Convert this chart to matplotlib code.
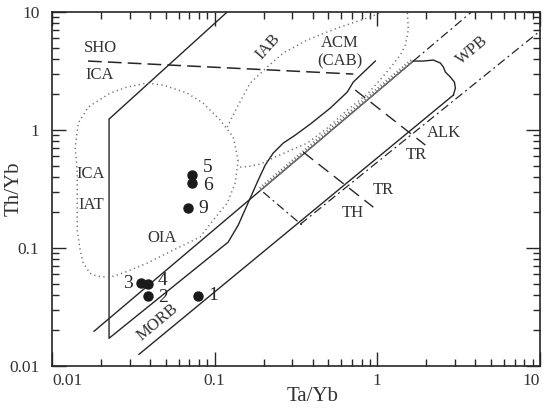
import matplotlib
matplotlib.use("Agg")
import matplotlib.pyplot as plt
import matplotlib.patheffects as pe
from matplotlib.ticker import FixedLocator, FixedFormatter, LogLocator, NullFormatter

plt.rcParams['font.family'] = ['Liberation Serif', 'DejaVu Serif']

# samples: Ta/Yb vs Th/Yb
sample_ids = ["1", "2", "3", "4", "5", "6", "9"]
ta_yb = [0.079, 0.039, 0.0353, 0.039, 0.0727, 0.0727, 0.069]
th_yb = [0.039, 0.039, 0.0503, 0.0493, 0.415, 0.355, 0.218]

# solid field boundaries
arc_x = [0.1194, 0.02243, 0.02243, 0.121, 0.1395, 0.1654, 0.1852, 0.2046,
         0.229, 0.264, 0.313, 0.387, 0.514, 0.6535, 0.7115, 0.972]
arc_y = [10.0, 1.237, 0.01718, 0.112, 0.156, 0.2645, 0.3758, 0.504,
         0.637, 0.774, 0.905, 1.122, 1.534, 2.097, 2.549, 3.84]
upper_x = [0.01814, 1.665]
upper_y = [0.0197, 3.84]
hatch_x = [0.1905, 1.665]
hatch_y = [0.3065, 3.84]
upper_ext_x = [1.665, 3.79]
upper_ext_y = [3.84, 10.0]
lower_x = [0.0343, 2.936]
lower_y = [0.01257, 1.977]
wpb_x = [2.936, 3.02, 2.977, 2.813, 2.621, 2.548, 2.442, 2.211, 1.919, 1.665]
wpb_y = [1.977, 2.266, 2.549, 2.81, 3.098, 3.416, 3.693, 3.916, 3.84, 3.84]

# dash-dot and dashed lines
vec_x = [0.336, 10.0]
vec_y = [0.159, 6.9]
th_tr_x = [0.1988, 0.3505]
th_tr_y = [0.2974, 0.1531]
tr1_x = [0.3505, 0.945]
tr1_y = [0.6495, 0.222]
tr2_x = [0.732, 1.974]
tr2_y = [2.18, 0.745]
sho_x = [0.01665, 0.7115]
sho_y = [3.84, 2.98]

# dotted fields
oia_x = [0.1395, 0.1337, 0.1194, 0.0979, 0.0814, 0.0555, 0.0384, 0.0281, 0.0228,
         0.0189, 0.0171, 0.0155, 0.0149, 0.0143, 0.0143, 0.0143, 0.0143, 0.0139,
         0.0145, 0.0167, 0.0228, 0.0289, 0.0384, 0.0482, 0.0677, 0.0849, 0.1081,
         0.1300, 0.1395]
oia_y = [0.556, 0.354, 0.240, 0.172, 0.124, 0.0958, 0.0743, 0.0623, 0.0565,
         0.0577, 0.0611, 0.0758, 0.0958, 0.1416, 0.1825, 0.2804, 0.431, 0.716,
         1.144, 1.564, 2.056, 2.311, 2.499, 2.403, 2.056, 1.691, 1.213,
         0.871, 0.556]
acm_r_x = [0.1435, 0.1654, 0.1905, 0.2425, 0.3041, 0.3709, 0.4924, 0.6535,
           0.868, 1.089, 1.254, 1.385, 1.487, 1.551, 1.529]
acm_r_y = [0.4844, 0.4941, 0.5138, 0.6006, 0.6887, 0.774, 1.038, 1.475,
           2.016, 2.865, 3.622, 4.318, 5.25, 7.036, 10.0]
acm_l_x = [0.1194, 0.1376, 0.1654, 0.2103, 0.264, 0.3709, 0.5672, 0.9055, 1.073]
acm_l_y = [1.058, 1.564, 2.499, 3.416, 4.49, 5.787, 7.316, 9.07, 10.0]

ink = "#262626"
fig = plt.figure(figsize=(5.5, 4.11), dpi=100)
ax = fig.add_axes([0.0945, 0.1095, 0.8873, 0.8613])
ax.set_xscale("log")
ax.set_yscale("log")
ax.set_xlim(0.01, 10)
ax.set_ylim(0.01, 10)

ax.plot(arc_x, arc_y, color=ink, lw=1.0)
ax.plot(upper_x, upper_y, color=ink, lw=1.0)
ax.plot(hatch_x, hatch_y, color="#777777", lw=0.6,
        path_effects=[pe.withTickedStroke(angle=90, spacing=2.5, length=0.8,
                                          foreground="#777777", linewidth=0.8)])
ax.plot(upper_ext_x, upper_ext_y, color=ink, lw=0.9, ls=(0, (7, 3, 1.5, 3)))
ax.plot(lower_x, lower_y, color=ink, lw=1.0)
ax.plot(wpb_x, wpb_y, color=ink, lw=1.0)
ax.plot(vec_x, vec_y, color=ink, lw=0.9, ls=(0, (7, 3, 1.5, 3)))
ax.plot(th_tr_x, th_tr_y, color=ink, lw=0.9, ls=(0, (7, 3, 1.5, 3)))
ax.plot(tr1_x, tr1_y, color=ink, lw=1.0, ls=(0, (9, 5)))
ax.plot(tr2_x, tr2_y, color=ink, lw=1.0, ls=(0, (9, 5)))
ax.plot(sho_x, sho_y, color=ink, lw=1.1, ls=(0, (9, 4)))
for fx, fy in [(oia_x, oia_y), (acm_r_x, acm_r_y), (acm_l_x, acm_l_y)]:
    ax.plot(fx, fy, color="#707070", lw=1.1, ls=(0, (0.8, 2.2)))

ax.plot(ta_yb, th_yb, "o", color="#1a1a1a", ms=6.5, zorder=5)
offsets = {"1": (11, 0.5), "2": (11, -0.7), "3": (-9.5, 0), "4": (10, 3),
           "5": (11.5, 5.5), "6": (11.5, -1.5), "9": (11, 0)}
for sid, x, y in zip(sample_ids, ta_yb, th_yb):
    ax.annotate(sid, (x, y), xytext=offsets[sid], textcoords="offset points",
                ha="center", va="center", fontsize=14, color=ink)

field_kw = dict(ha="center", va="center", fontsize=12, color="#333333")
ax.text(0.01973, 4.95, "SHO", **field_kw)
ax.text(0.01973, 2.92, "ICA", **field_kw)
ax.text(0.2134, 5.05, "IAB", rotation=48, **field_kw)
ax.text(0.584, 5.46, "ACM", **field_kw)
ax.text(0.592, 3.84, "(CAB)", **field_kw)
ax.text(3.843, 4.76, "WPB", rotation=40, **field_kw)
ax.text(2.584, 0.941, "ALK", **field_kw)
ax.text(1.738, 0.6125, "TR", **field_kw)
ax.text(1.089, 0.309, "TR", **field_kw)
ax.text(0.702, 0.197, "TH", **field_kw)
ax.text(0.01738, 0.4227, "ICA", **field_kw)
ax.text(0.01738, 0.2307, "IAT", **field_kw)
ax.text(0.04753, 0.1211, "OIA", **field_kw)
ax.text(0.04428, 0.02348, "MORB", rotation=40, **field_kw)

majors = [0.01, 0.1, 1, 10]
major_labels = ["0.01", "0.1", "1", "10"]
for axis in (ax.xaxis, ax.yaxis):
    axis.set_major_locator(FixedLocator(majors))
    axis.set_major_formatter(FixedFormatter(major_labels))
    axis.set_minor_locator(LogLocator(base=10, subs=range(2, 10)))
    axis.set_minor_formatter(NullFormatter())
ax.tick_params(which="both", direction="in", top=True, right=True,
               colors=ink, width=1.0, labelsize=12.5, labelcolor="#333333")
ax.tick_params(which="major", length=10)
ax.tick_params(which="minor", length=5)
ax.tick_params(axis="y", pad=9)
ax.tick_params(axis="x", pad=5)
for sp in ax.spines.values():
    sp.set_color(ink)
    sp.set_linewidth(1.2)

# edge tick labels sit inside the axis span, as in the source figure
xlabels = ax.get_xticklabels()
xlabels[0].set_horizontalalignment("left")
xlabels[-1].set_horizontalalignment("right")

ax.set_xlabel("Ta/Yb", fontsize=15, color="#333333")
ax.set_ylabel("Th/Yb", fontsize=15, color="#333333")
ax.xaxis.set_label_coords(0.533, -0.058)
ax.yaxis.set_label_coords(-0.058, 0.5)

fig.savefig("out.png", dpi=100)
